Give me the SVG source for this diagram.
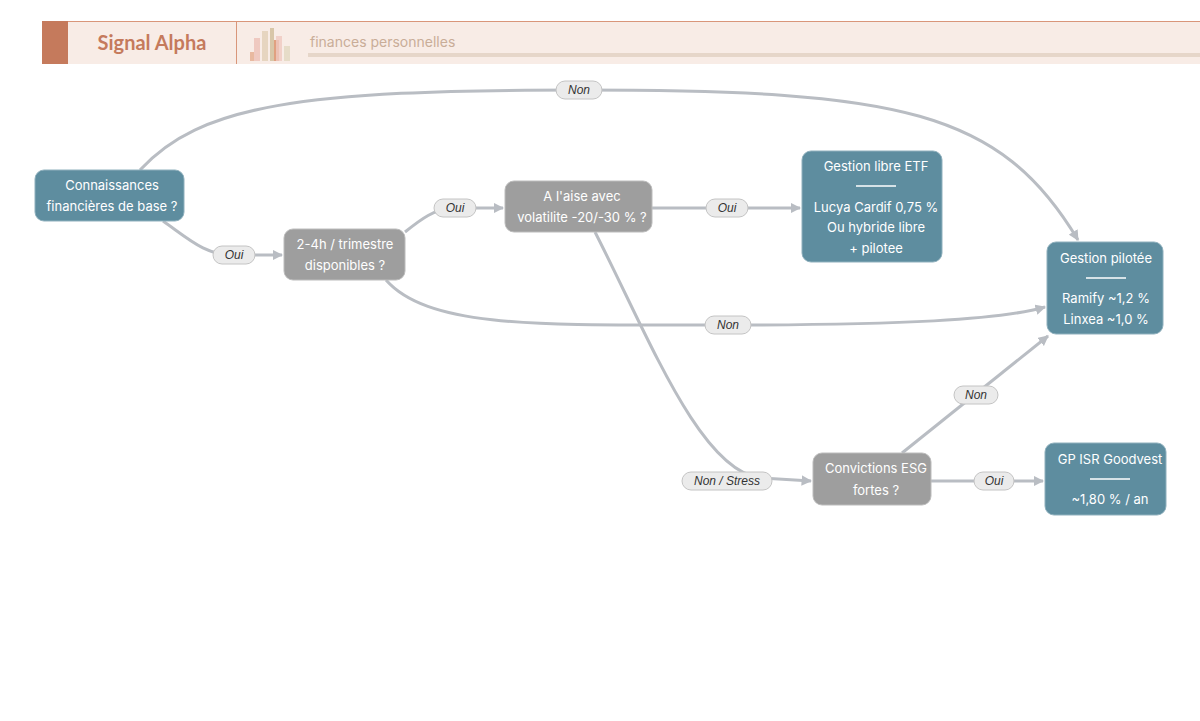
<svg xmlns="http://www.w3.org/2000/svg" width="1200" height="721" viewBox="0 0 1200 721">
<style>
.e{fill:none;stroke:#b9bdc3;stroke-width:3}
.lb rect{fill:#ebebeb;stroke:#c4c4c4;stroke-width:1}
.lb text{font-family:"Liberation Sans",Arial,sans-serif;font-size:12px;font-style:italic;fill:#333;text-anchor:middle}
.b{fill:#5e8d9f;stroke:#8fb0bd;stroke-width:1}
.g{fill:#9e9e9e;stroke:#bcbcbc;stroke-width:1}
.t{font-family:Inter,"Liberation Sans",sans-serif;font-size:13px;fill:#fff;text-anchor:middle}
</style>
<defs><marker id="a" viewBox="0 0 10 10" refX="9" refY="5" markerWidth="3.5" markerHeight="3.5" orient="auto"><path d="M0,0L10,5L0,10z" fill="#b9bdc3"/></marker></defs>
<rect width="1200" height="721" fill="#fff"/>
<g id="header">
<rect x="42" y="21" width="1158" height="43" fill="#f8ece6"/>
<line x1="42" y1="21.5" x2="1200" y2="21.5" stroke="#d9967a" stroke-width="1"/>
<rect x="42" y="21" width="26" height="43" fill="#c57a5c"/>
<text x="152" y="50" font-family="Lato,'Liberation Sans',sans-serif" font-weight="bold" font-size="20" fill="#c57a5c" text-anchor="middle">Signal Alpha</text>
<line x1="236.5" y1="21" x2="236.5" y2="64" stroke="#d9967a"/>
<rect x="250" y="52" width="6" height="9" fill="#e8b9a0"/>
<rect x="254" y="38" width="6" height="23" fill="#efc9c0"/>
<rect x="262" y="31" width="6" height="30" fill="#e6d5c0"/>
<rect x="270" y="28" width="4" height="33" fill="#d8c6a8"/>
<rect x="274" y="40" width="5" height="21" fill="#e0a080"/>
<rect x="276" y="36" width="6" height="25" fill="#efc9c0" opacity="0.8"/>
<rect x="284" y="46" width="6" height="15" fill="#e6dcc8"/>
<text x="310" y="47" font-family="Inter,'Liberation Sans',sans-serif" font-size="14" fill="#c9ad98">finances personnelles</text>
<rect x="308" y="53" width="892" height="4" fill="#e6d6c9"/>
</g>
<g id="connectors">
<path class="e" d="M140,170 C200,105 300,90 579,90 C900,90 1000,110 1078,240" marker-end="url(#a)"/>
<path class="e" d="M163,221 C190,240 205,255 234,255 L282,255" marker-end="url(#a)"/>
<path class="e" d="M405,232 C420,220 435,208 455,208 L503,208" marker-end="url(#a)"/>
<path class="e" d="M652,208 L800,208" marker-end="url(#a)"/>
<path class="e" d="M386,280 C430,330 550,325 727,325 C900,325 1000,320 1045,307" marker-end="url(#a)"/>
<path class="e" d="M595,232 C650,340 700,470 760,478 L811,481" marker-end="url(#a)"/>
<path class="e" d="M902,453 L1048,336" marker-end="url(#a)"/>
<path class="e" d="M931,481 L1043,481" marker-end="url(#a)"/>
<g class="lb">
<rect x="556" y="81" width="46" height="18" rx="9"/><text x="579" y="94">Non</text>
<rect x="213" y="246" width="42" height="18" rx="9"/><text x="234" y="259">Oui</text>
<rect x="434" y="199" width="42" height="18" rx="9"/><text x="455" y="212">Oui</text>
<rect x="706" y="199" width="42" height="18" rx="9"/><text x="727" y="212">Oui</text>
<rect x="705" y="316" width="46" height="18" rx="9"/><text x="728" y="329">Non</text>
<rect x="682" y="472" width="90" height="18" rx="9"/><text x="727" y="485">Non / Stress</text>
<rect x="954" y="386" width="44" height="18" rx="9"/><text x="976" y="399">Non</text>
<rect x="974" y="472" width="40" height="18" rx="9"/><text x="994" y="485">Oui</text>
</g>
</g>
<g id="n1"><rect class="b" x="35" y="170" width="149" height="51" rx="9"/><text class="t" x="112" y="190">Connaissances</text><text class="t" x="112" y="211">financières de base ?</text></g>
<g id="n2"><rect class="g" x="284" y="229" width="121" height="51" rx="9"/><text class="t" x="345" y="249">2-4h / trimestre</text><text class="t" x="345" y="270">disponibles ?</text></g>
<g id="n3"><rect class="g" x="505" y="181" width="147" height="51" rx="9"/><text class="t" x="582" y="201">A l'aise avec</text><text class="t" x="582" y="222">volatilite -20/-30 % ?</text></g>
<g id="n4"><rect class="b" x="802" y="151" width="140" height="111" rx="9"/><text class="t" x="876" y="171">Gestion libre ETF</text><line x1="856" y1="186" x2="896" y2="186" stroke="#fff" stroke-width="1.3"/><text class="t" x="876" y="212">Lucya Cardif 0,75 %</text><text class="t" x="876" y="232">Ou hybride libre</text><text class="t" x="876" y="253">+ pilotee</text></g>
<g id="n5"><rect class="b" x="1047" y="242" width="116" height="92" rx="9"/><text class="t" x="1106" y="263">Gestion pilotée</text><line x1="1086" y1="278" x2="1126" y2="278" stroke="#fff" stroke-width="1.3"/><text class="t" x="1106" y="303">Ramify ~1,2 %</text><text class="t" x="1106" y="324">Linxea ~1,0 %</text></g>
<g id="n6"><rect class="g" x="813" y="453" width="118" height="52" rx="9"/><text class="t" x="876" y="473">Convictions ESG</text><text class="t" x="876" y="495">fortes ?</text></g>
<g id="n7"><rect class="b" x="1045" y="443" width="121" height="72" rx="9"/><text class="t" x="1110" y="464">GP ISR Goodvest</text><line x1="1090" y1="479" x2="1130" y2="479" stroke="#fff" stroke-width="1.3"/><text class="t" x="1110" y="504">~1,80 % / an</text></g>
</svg>
